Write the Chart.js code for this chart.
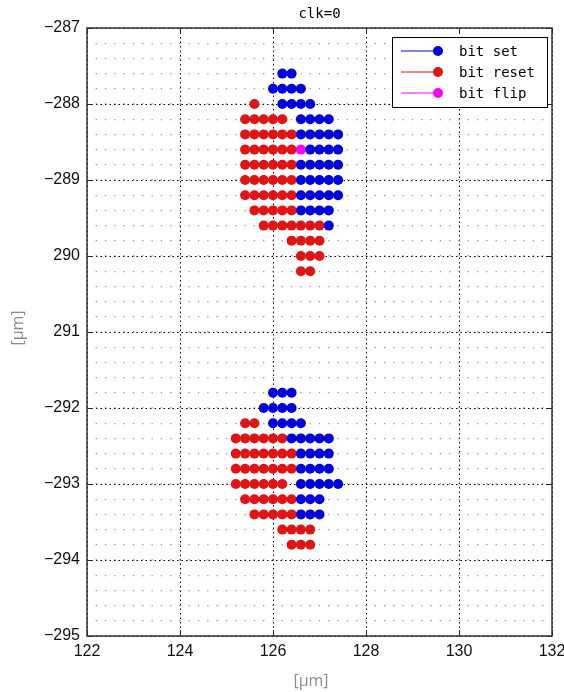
<!DOCTYPE html>
<html>
<head>
<meta charset="utf-8">
<title>clk=0</title>
<script src="https://cdn.jsdelivr.net/npm/chart.js@4.4.1/dist/chart.umd.min.js"></script>
<style>
    html, body { margin: 0; padding: 0; background: #fff; }
    canvas { display: block; }
</style>
</head>
<body>
<canvas id="bitChart" width="564" height="692"></canvas>
<script>
/* ============================================
   clk=0 — bit map of the two clusters
   ============================================ */

// axis ranges and tick labels
const xRange = [122, 132];
const yRange = [-295, -287];
const xTickValues = [122, 124, 126, 128, 130, 132];
const yTickValues = [-287, -288, -289, -290, -291, -292, -293, -294, -295];
const yTickLabels = ['\u2212287', '\u2212288', '\u2212289', '290', '291', '\u2212292', '\u2212293', '\u2212294', '\u2212295'];
const siteStep = 0.2;

// rows of sites: [y, [x, x, ...]]
const setRows = [
    [-287.6, [126.2, 126.4]],
    [-287.8, [126.0, 126.2, 126.4, 126.6]],
    [-288.0, [126.2, 126.4, 126.6, 126.8]],
    [-288.2, [126.6, 126.8, 127.0, 127.2]],
    [-288.4, [126.6, 126.8, 127.0, 127.2, 127.4]],
    [-288.6, [126.8, 127.0, 127.2, 127.4]],
    [-288.8, [126.6, 126.8, 127.0, 127.2, 127.4]],
    [-289.0, [126.6, 126.8, 127.0, 127.2, 127.4]],
    [-289.2, [126.6, 126.8, 127.0, 127.2, 127.4]],
    [-289.4, [126.6, 126.8, 127.0, 127.2]],
    [-289.6, [127.2]],
    [-291.8, [126.0, 126.2, 126.4]],
    [-292.0, [125.8, 126.0, 126.2, 126.4]],
    [-292.2, [126.0, 126.2, 126.4, 126.6]],
    [-292.4, [126.4, 126.6, 126.8, 127.0, 127.2]],
    [-292.6, [126.6, 126.8, 127.0, 127.2]],
    [-292.8, [126.6, 126.8, 127.0, 127.2]],
    [-293.0, [126.6, 126.8, 127.0, 127.2, 127.4]],
    [-293.2, [126.6, 126.8, 127.0]],
    [-293.4, [126.6, 126.8, 127.0]],
];

const resetRows = [
    [-288.0, [125.6]],
    [-288.2, [125.4, 125.6, 125.8, 126.0, 126.2]],
    [-288.4, [125.4, 125.6, 125.8, 126.0, 126.2, 126.4]],
    [-288.6, [125.4, 125.6, 125.8, 126.0, 126.2, 126.4]],
    [-288.8, [125.4, 125.6, 125.8, 126.0, 126.2, 126.4]],
    [-289.0, [125.4, 125.6, 125.8, 126.0, 126.2, 126.4]],
    [-289.2, [125.4, 125.6, 125.8, 126.0, 126.2, 126.4]],
    [-289.4, [125.6, 125.8, 126.0, 126.2, 126.4]],
    [-289.6, [125.8, 126.0, 126.2, 126.4, 126.6, 126.8, 127.0]],
    [-289.8, [126.4, 126.6, 126.8, 127.0]],
    [-290.0, [126.6, 126.8, 127.0]],
    [-290.2, [126.6, 126.8]],
    [-292.2, [125.4, 125.6]],
    [-292.4, [125.2, 125.4, 125.6, 125.8, 126.0, 126.2]],
    [-292.6, [125.2, 125.4, 125.6, 125.8, 126.0, 126.2, 126.4]],
    [-292.8, [125.2, 125.4, 125.6, 125.8, 126.0, 126.2, 126.4]],
    [-293.0, [125.2, 125.4, 125.6, 125.8, 126.0, 126.2]],
    [-293.2, [125.4, 125.6, 125.8, 126.0, 126.2, 126.4]],
    [-293.4, [125.6, 125.8, 126.0, 126.2, 126.4]],
    [-293.6, [126.2, 126.4, 126.6, 126.8]],
    [-293.8, [126.4, 126.6, 126.8]],
];

const flipRows = [
    [-288.6, [126.6]],
];

const series = [
    { label: 'bit set', rows: setRows, color: '#0000dc' },
    { label: 'bit reset', rows: resetRows, color: '#e01414' },
    { label: 'bit flip', rows: flipRows, color: '#ff00ff' },
];

const toPoints = rows => rows.flatMap(([y, xs]) => xs.map(x => ({ x, y })));

// frame, inward ticks, title, axis titles and legend
const framePlugin = {
    id: 'frame',
    afterDatasetsDraw(chart) {
        const { ctx, chartArea: a, scales } = chart;
        const tl = 6;
        ctx.save();
        ctx.strokeStyle = '#222';
        ctx.lineWidth = 1;
        ctx.beginPath();
        xTickValues.forEach(v => {
            const px = Math.round(scales.x.getPixelForValue(v)) + 0.5;
            ctx.moveTo(px, a.bottom); ctx.lineTo(px, a.bottom - tl);
            ctx.moveTo(px, a.top); ctx.lineTo(px, a.top + tl);
        });
        yTickValues.forEach(v => {
            const py = Math.round(scales.y.getPixelForValue(v)) + 0.5;
            ctx.moveTo(a.left, py); ctx.lineTo(a.left + tl, py);
            ctx.moveTo(a.right, py); ctx.lineTo(a.right - tl, py);
        });
        ctx.stroke();
        ctx.lineWidth = 1.5;
        ctx.strokeStyle = '#333';
        ctx.strokeRect(a.left, a.top, a.right - a.left, a.bottom - a.top);

        // title
        ctx.fillStyle = '#000';
        ctx.font = '14px "DejaVu Sans Mono"';
        ctx.textAlign = 'center';
        ctx.textBaseline = 'middle';
        ctx.fillText('clk=0', (a.left + a.right) / 2, 14);

        // axis titles
        ctx.fillStyle = '#8c8c8c';
        ctx.font = '16px "Open Sans"';
        ctx.fillText('[\u03bcm]', 311, 681);
        ctx.save();
        ctx.translate(18, 328);
        ctx.rotate(-Math.PI / 2);
        ctx.fillText('[\u03bcm]', 0, 0);
        ctx.restore();

        // legend
        const lx = 392, ly = 37, lw = 155, lh = 70;
        ctx.fillStyle = '#fff';
        ctx.fillRect(lx, ly, lw, lh);
        ctx.strokeStyle = '#000';
        ctx.lineWidth = 1;
        ctx.strokeRect(lx + 0.5, ly + 0.5, lw, lh);
        series.forEach((s, i) => {
            const y = ly + 14 + i * 21;
            ctx.strokeStyle = s.color;
            ctx.beginPath();
            ctx.moveTo(401, y); ctx.lineTo(438, y);
            ctx.stroke();
            ctx.fillStyle = s.color;
            ctx.beginPath();
            ctx.arc(438, y, 5, 0, Math.PI * 2);
            ctx.fill();
            ctx.fillStyle = '#000';
            ctx.font = '14px "DejaVu Sans Mono"';
            ctx.textAlign = 'left';
            ctx.fillText(s.label, 459, y + 1);
        });
        ctx.restore();
    }
};

new Chart(document.getElementById('bitChart'), {
    type: 'scatter',
    data: {
        datasets: series.map(s => ({
            label: s.label,
            data: toPoints(s.rows),
            backgroundColor: s.color,
            borderWidth: 0,
            pointRadius: 5,
            pointHoverRadius: 5,
        }))
    },
    options: {
        responsive: false,
        animation: false,
        devicePixelRatio: 1,
        layout: { padding: { top: 28, right: 12, left: 0, bottom: 0 } },
        plugins: { legend: { display: false }, tooltip: { enabled: false } },
        scales: {
            x: {
                type: 'linear', min: xRange[0], max: xRange[1],
                afterBuildTicks: s => { s.ticks = xTickValues.map(v => ({ value: v })); },
                afterFit: s => { s.height = 56; s.paddingLeft = 0; s.paddingRight = 0; },
                ticks: { color: '#111', padding: 6, font: { family: '"Liberation Sans"', size: 16 }, maxRotation: 0 },
                grid: { color: '#000', lineWidth: 1, drawTicks: false },
                border: { display: false, dash: [1.5, 3] },
            },
            y: {
                type: 'linear', min: yRange[0], max: yRange[1],
                afterBuildTicks: s => { s.ticks = yTickValues.map(v => ({ value: v })); },
                afterFit: s => { s.width = 87; },
                ticks: {
                    color: '#111', padding: 7, font: { family: '"Liberation Sans"', size: 16 },
                    callback: v => yTickLabels[yTickValues.indexOf(v)],
                },
                grid: { color: '#000', lineWidth: 1, drawTicks: false },
                border: { display: false, dash: [1.5, 3] },
            },
            // lattice of sites drawn as dotted rows
            ySite: {
                type: 'linear', position: 'left', min: yRange[0], max: yRange[1],
                afterFit: s => { s.width = 0; },
                ticks: { display: false, stepSize: siteStep },
                grid: { color: 'rgba(190, 70, 190, 0.75)', lineWidth: 1.3, drawTicks: false },
                border: { display: false, dash: [1.3, 8.0], dashOffset: 0.65 },
            },
        }
    },
    plugins: [framePlugin]
});
</script>
</body>
</html>
